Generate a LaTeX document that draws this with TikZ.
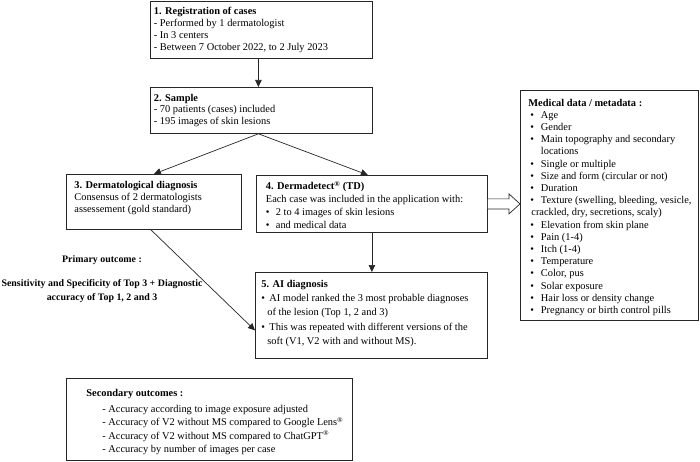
\documentclass[tikz,border=0pt]{standalone}
\usepackage{fontspec}
\setmainfont{Liberation Serif}
\usetikzlibrary{arrows.meta,calc}
\newcommand{\bc}[5]{\begin{minipage}[t][#2pt][t]{#1pt}\fontsize{10.4}{#4}\selectfont\raggedright\hbadness=10000\hfuzz=100pt\vspace*{#3pt}#5\end{minipage}}
\newcommand{\bu}[2]{\mbox{\makebox[#1pt][l]{\textbullet}#2}}
\newcommand{\sr}{\textsuperscript{®}}
\begin{document}
\begin{tikzpicture}[x=1pt,y=-1pt,
  box/.style={draw=black!85, line width=0.8pt, anchor=north west, inner ysep=0pt},
  arr/.style={draw=black!85, -{Triangle[length=7pt,width=6.5pt]}, line width=0.7pt},
  lbl/.style={align=center, font=\fontsize{9.9}{14}\selectfont\bfseries}]
\useasboundingbox (0,0) rectangle (700,462);

\node[box, inner xsep=3.5pt] (b1) at (150,1) {\bc{215}{57}{6}{11.8}{%
\textbf{1. Registration of cases}\\
- Performed by 1 dermatologist\\
- In 3 centers\\
- Between 7 October 2022, to 2 July 2023}};

\node[box, inner xsep=3.5pt] (b2) at (150,87) {\bc{215}{46}{6.5}{11.8}{%
\textbf{2. Sample}\\
- 70 patients (cases) included\\
- 195 images of skin lesions}};

\node[box, inner xsep=8pt] (b3) at (66,174) {\bc{159}{55}{7}{12}{%
\textbf{3. Dermatological diagnosis}\\
Consensus of 2 dermatologists\\
assessement (gold standard)}};

\node[box, inner xsep=9.5pt] (b4) at (256,175) {\bc{212}{57}{6}{13}{%
\textbf{4. Dermadetect\sr{} (TD)}\\
Each case was included in the application with:\\
\bu{10}{2 to 4 images of skin lesions}\\
\bu{10}{and medical data}}};

\node[box, inner xsep=6pt] (b5) at (255,272) {\bc{220}{86}{7.5}{14.3}{%
\textbf{5. AI diagnosis}\\
\bu{8}{AI model ranked the 3 most probable diagnoses}\\
\hspace*{6pt}of the lesion (Top 1, 2 and 3)\\
\bu{8}{This was repeated with different versions of the}\\
\hspace*{6pt}soft (V1, V2 with and without MS).}};

\node[box, inner xsep=8pt] (md) at (520,90) {\bc{162}{230}{8.5}{12.2}{%
\textbf{Medical data / metadata :}\\
\hspace*{2pt}\bu{10.5}{Age}\\
\hspace*{2pt}\bu{10.5}{Gender}\\
\hspace*{2pt}\bu{10.5}{Main topography and secondary}\\
\hspace*{12.5pt}locations\\
\hspace*{2pt}\bu{10.5}{Single or multiple}\\
\hspace*{2pt}\bu{10.5}{Size and form (circular or not)}\\
\hspace*{2pt}\bu{10.5}{Duration}\\
\hspace*{2pt}\bu{10.5}{Texture (swelling, bleeding, vesicle,}\\
\mbox{\hspace*{3pt}crackled, dry, secretions, scaly)}\\
\hspace*{2pt}\bu{10.5}{Elevation from skin plane}\\
\hspace*{2pt}\bu{10.5}{Pain (1-4)}\\
\hspace*{2pt}\bu{10.5}{Itch (1-4)}\\
\hspace*{2pt}\bu{10.5}{Temperature}\\
\hspace*{2pt}\bu{10.5}{Color, pus}\\
\hspace*{2pt}\bu{10.5}{Solar exposure}\\
\hspace*{2pt}\bu{10.5}{Hair loss or density change}\\
\hspace*{2pt}\bu{10.5}{Pregnancy or birth control pills}}};

\node[box, inner xsep=20pt] (so) at (66,378) {\bc{246}{82}{10.5}{13.4}{%
\textbf{Secondary outcomes :}\\[3pt]
\mbox{\hspace*{16pt}- Accuracy according to image exposure adjusted}\\
\mbox{\hspace*{16pt}- Accuracy of V2 without MS compared to Google Lens\sr}\\
\mbox{\hspace*{16pt}- Accuracy of V2 without MS compared to ChatGPT\sr}\\
\mbox{\hspace*{16pt}- Accuracy by number of images per case}}};

\node[lbl] (po) at (102,260) {Primary outcome :};
\node[lbl] (pt) at (102,291) {Sensitivity and Specificity of Top 3 + Diagnostic\\accuracy of Top 1, 2 and 3};

\draw[arr] ([xshift=-3pt]b1.south) -- ([xshift=-3pt]b2.north);
\draw[arr] ([xshift=-3pt]b2.south) -- (b3.north);
\draw[arr] ([xshift=-3pt]b2.south) -- ([xshift=-4pt]b4.north);
\draw[arr] (b4.south) -- (b4.south |- b5.north);
\draw[arr] ([xshift=-3pt]b3.south) -- ([yshift=-15pt]b5.west);

\coordinate (ha) at (b4.east);
\coordinate (hb) at (md.west |- ha);
\draw[draw=black!85, line width=0.7pt, fill=white, line join=miter]
  ($(ha)+(0,-5)$) -- ($(hb)+(-11,-5)$) -- ($(hb)+(-11,-10)$) -- (hb)
  -- ($(hb)+(-11,10)$) -- ($(hb)+(-11,5)$) -- ($(ha)+(0,5)$);
\end{tikzpicture}
\end{document}
